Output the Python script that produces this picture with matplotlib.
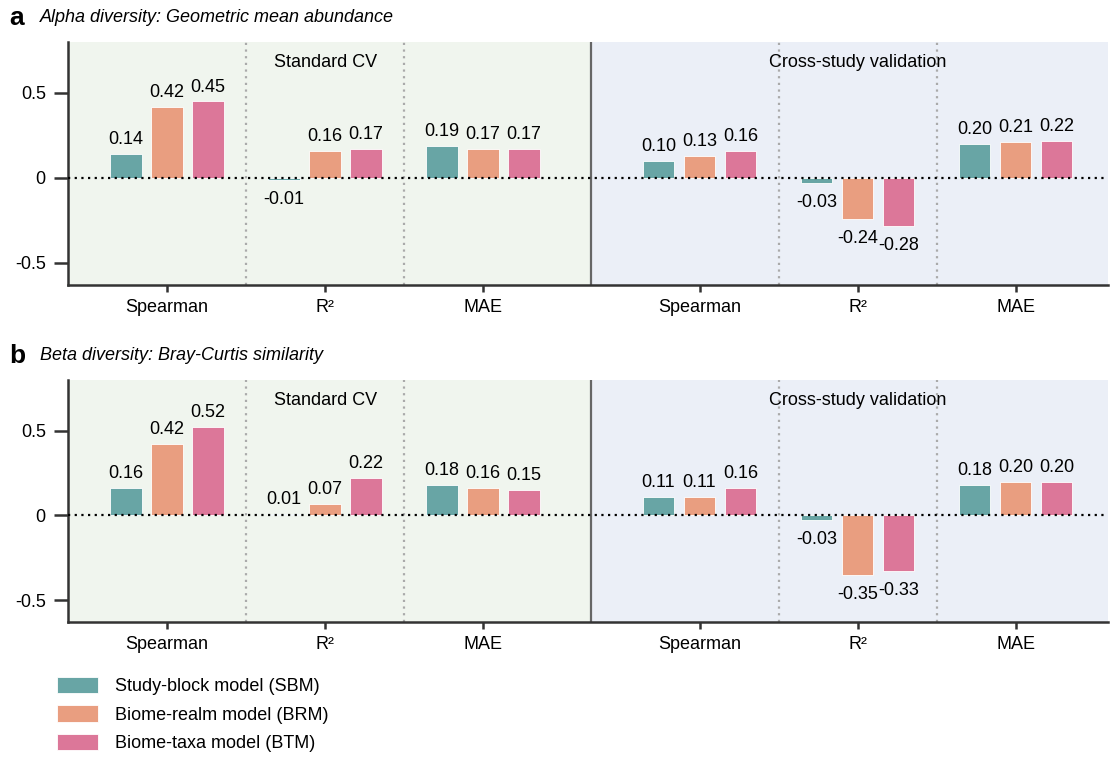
import matplotlib.pyplot as plt
import numpy as np

# data
metrics = ["Spearman", "R²", "MAE"]
models = ["Study-block model (SBM)", "Biome-realm model (BRM)", "Biome-taxa model (BTM)"]
colors = ["#68a5a5", "#e99e80", "#dc7799"]

# rows = metric, columns = model ; standard CV then cross-study
alpha_cv = [[0.14, 0.42, 0.45], [-0.01, 0.16, 0.17], [0.19, 0.17, 0.17]]
alpha_cross = [[0.10, 0.13, 0.16], [-0.03, -0.24, -0.28], [0.20, 0.21, 0.22]]
beta_cv = [[0.16, 0.42, 0.52], [0.01, 0.07, 0.22], [0.18, 0.16, 0.15]]
beta_cross = [[0.11, 0.11, 0.16], [-0.03, -0.35, -0.33], [0.18, 0.20, 0.20]]

panels = [
    ("a", "Alpha diversity: Geometric mean abundance", alpha_cv, alpha_cross),
    ("b", "Beta diversity: Bray-Curtis similarity", beta_cv, beta_cross),
]

plt.rcParams["font.family"] = ["Liberation Sans", "DejaVu Sans"]
fs = 13

fig = plt.figure(figsize=(11.1, 7.58), dpi=100)

gap = 1.37
pos = np.array([0, 1, 2, 2 + gap, 3 + gap, 4 + gap])
xmin, xmax = -0.627, 5.956
split = 2 + gap / 2
offs = [-0.26, 0, 0.26]
width = 0.2

axes_box = [(0.0613, 0.624, 0.937, 0.3206), (0.0613, 0.1794, 0.937, 0.3193)]

for (letter, title, cv, cross), box in zip(panels, axes_box):
    ax = fig.add_axes(box)
    ax.axvspan(xmin, split, color="#f0f5ee", zorder=0, lw=0)
    ax.axvspan(split, xmax, color="#ebeff7", zorder=0, lw=0)
    vals = cv + cross
    for m in range(3):
        ys = [vals[g][m] for g in range(6)]
        xs = pos + offs[m]
        ax.bar(xs, ys, width=width, color=colors[m], edgecolor="white",
               linewidth=0.6, zorder=2, label=models[m])
        for x, y in zip(xs, ys):
            if y >= 0:
                ax.text(x, y + 0.035, f"{y:.2f}", ha="center", va="bottom", fontsize=fs, zorder=4)
            else:
                ax.text(x, y - 0.065, f"{y:.2f}", ha="center", va="top", fontsize=fs, zorder=4)
    ax.axhline(0, color="black", ls=(0, (1, 2)), lw=1.6, zorder=3)
    for xv in [0.5, 1.5, 2 + gap + 0.5, 3 + gap + 0.5]:
        ax.axvline(xv, color="#aaaaaa", ls=(0, (1, 2)), lw=1.6, zorder=1)
    ax.axvline(split, color="#666666", lw=1.6, zorder=1)
    ax.text(1, 0.68, "Standard CV", ha="center", va="center", fontsize=fs)
    ax.text(3 + gap, 0.68, "Cross-study validation", ha="center", va="center", fontsize=fs)

    ax.set_xlim(xmin, xmax)
    ax.set_ylim(-0.63, 0.8)
    ax.set_yticks([-0.5, 0, 0.5])
    ax.set_yticklabels(["-0.5", "0", "0.5"])
    ax.set_xticks(pos)
    ax.set_xticklabels(metrics * 2)
    ax.tick_params(labelsize=fs, width=1.8, color="#333333")
    ax.tick_params(axis="y", length=10, pad=6)
    ax.tick_params(axis="x", length=5, pad=5)
    for s in ["top", "right"]:
        ax.spines[s].set_visible(False)
    for s in ["left", "bottom"]:
        ax.spines[s].set_linewidth(1.8)
        ax.spines[s].set_color("#333333")

    top = box[1] + box[3]
    fig.text(0.008, top + 0.032, letter, fontsize=19, fontweight="bold", va="center")
    fig.text(0.036, top + 0.032, title, fontsize=fs, style="italic", va="center")

handles, labels = ax.get_legend_handles_labels()
fig.legend(handles, labels, loc="upper left", bbox_to_anchor=(0.0365, 0.128),
           frameon=False, fontsize=fs, handlelength=2.3, handleheight=1.0,
           labelspacing=0.55, handletextpad=0.95)

fig.savefig("out.png", dpi=100)
